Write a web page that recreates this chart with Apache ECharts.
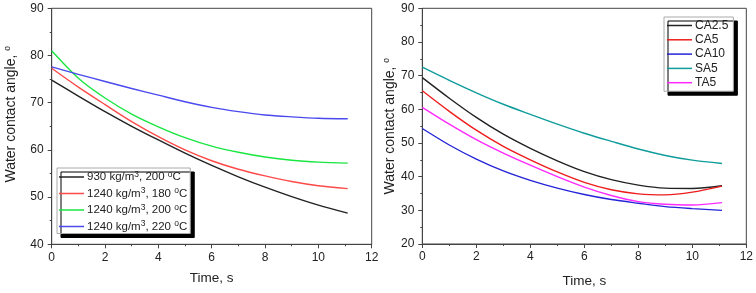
<!DOCTYPE html>
<html>
<head>
<meta charset="utf-8">
<script src="https://cdn.jsdelivr.net/npm/echarts@6/dist/echarts.min.js"></script>
<style>
  html, body { margin: 0; padding: 0; background: #fff; }
  #chart { width: 756px; height: 293px; }
</style>
</head>
<body>
<div id="chart"></div>
<script>
// left panel: density / temperature
const timeLeft = [0, 1, 2, 3, 4, 5, 6, 7, 8, 9, 10, 11.1]
const namesLeft = ['930 kg/m3, 200 oC', '1240 kg/m3, 180 oC', '1240 kg/m3, 200 oC', '1240 kg/m3, 220 oC']
const d930_200 = [74.8, 71.4, 68.1, 65.0, 62.1, 59.3, 56.7, 54.3, 52.1, 50.1, 48.3, 46.6]
const d1240_180 = [77.3, 73.3, 69.6, 66.0, 62.8, 60.0, 57.7, 55.9, 54.5, 53.3, 52.4, 51.8]
const d1240_200 = [81.0, 75.2, 71.0, 67.6, 64.9, 62.6, 60.8, 59.5, 58.5, 57.8, 57.4, 57.2]
const d1240_220 = [77.6, 76.0, 74.5, 73.0, 71.6, 70.2, 69.0, 68.1, 67.4, 67.0, 66.7, 66.6]
const colorsLeft = ['#222222', '#ff4a4a', '#19e640', '#4a4aee']

// right panel: samples
const timeRight = [0, 1, 2, 3, 4, 5, 6, 7, 8, 9, 10, 11.1]
const namesRight = ['CA2.5', 'CA5', 'CA10', 'SA5', 'TA5']
const ca25 = [69.4, 63.3, 57.6, 52.6, 48.4, 44.7, 41.5, 39.1, 37.5, 36.6, 36.5, 37.3]
const ca5 = [65.5, 59.4, 53.8, 49.0, 45.0, 41.4, 38.3, 36.1, 34.9, 34.6, 35.4, 37.2]
const ca10 = [54.3, 49.4, 45.2, 41.7, 38.9, 36.6, 34.7, 33.2, 32.1, 31.1, 30.5, 30.0]
const sa5 = [72.5, 68.6, 64.9, 61.5, 58.5, 55.6, 52.9, 50.5, 48.2, 46.3, 44.9, 43.9]
const ta5 = [60.6, 55.6, 51.0, 47.0, 43.4, 40.0, 36.9, 34.4, 32.6, 31.8, 31.6, 32.3]
const colorsRight = ['#222222', '#ee1c1c', '#2424d8', '#109c9c', '#ff2aff']

const font = 'Liberation Sans'
const txt = '#222'
const sup = { fontSize: 8.5, verticalAlign: 'top', lineHeight: 8, fontFamily: font, color: txt }

main()

function main() {
  const chart = echarts.init(document.getElementById('chart'))

  const seriesLeft = [d930_200, d1240_180, d1240_200, d1240_220].map((vals, i) => makeLine(namesLeft[i], timeLeft, vals, colorsLeft[i], 0))
  const seriesRight = [ca25, ca5, ca10, sa5, ta5].map((vals, i) => makeLine(namesRight[i], timeRight, vals, colorsRight[i], 1))

  const option = {
    animation: false,
    textStyle: { fontFamily: font },
    grid: [
      { left: 51.7, top: 8.3, width: 320, height: 236, show: true, borderColor: '#444', borderWidth: 1 },
      { left: 422.3, top: 8.3, width: 324.4, height: 240, show: true, borderColor: '#444', borderWidth: 1 }
    ],
    legend: [
      makeLegend(namesLeft, 57, 168, 14, 2.5, [2, 3, 0, 2], 11.5),
      makeLegend(namesRight, 664, 17, 13, 1.3, [2, 5, 2, 3], 12)
    ],
    xAxis: [makeX(0, 27), makeX(1, 30)],
    // left name sits a bit above the middle in the reference
    yAxis: [makeY(0, 40, 33, [0, 0, 0, 24]), makeY(1, 20, 22, 0)],
    series: seriesLeft.concat(seriesRight)
  }
  chart.setOption(option)
}

function makeLine(name, xs, vals, color, idx) {
  return {
    name: name,
    type: 'line',
    xAxisIndex: idx,
    yAxisIndex: idx,
    data: xs.map((x, i) => [x, vals[i]]),
    smooth: 0.3,
    symbol: 'none',
    lineStyle: { color: color, width: 1.4 },
    itemStyle: { color: color }
  }
}

function makeLegend(names, left, top, lh, gap, pad, size) {
  return {
    data: names,
    orient: 'vertical',
    left: left,
    top: top,
    icon: 'rect',
    itemWidth: 25,
    itemHeight: 1.5,
    itemGap: gap,
    padding: pad,
    backgroundColor: '#fff',
    borderColor: '#aaa',
    borderWidth: 1,
    borderRadius: 0,
    shadowColor: '#000',
    shadowBlur: 0,
    shadowOffsetX: 4,
    shadowOffsetY: 4,
    formatter: function (n) {
      return n.replace('m3', 'm{s|3}').replace(' oC', ' {s|o}C')
    },
    textStyle: { fontSize: size, lineHeight: lh, color: txt, fontFamily: font, padding: [0, 0, 0, -2], rich: { s: sup } }
  }
}

function makeX(idx, gap) {
  return {
    type: 'value',
    gridIndex: idx,
    min: 0,
    max: 12,
    interval: 2,
    name: 'Time, s',
    nameLocation: 'middle',
    nameGap: gap,
    nameTextStyle: { fontSize: 13.5, color: txt, fontFamily: font },
    axisLine: { show: true, lineStyle: { color: '#444', width: 1 } },
    axisTick: { show: true, inside: false, length: 4, lineStyle: { color: '#444' } },
    minorTick: { show: true, splitNumber: 2, length: 2, lineStyle: { color: '#444' } },
    axisLabel: { fontSize: 12, color: txt, margin: 7, fontFamily: font },
    splitLine: { show: false }
  }
}

function makeY(idx, min, gap, namePad) {
  return {
    type: 'value',
    gridIndex: idx,
    min: min,
    max: 90,
    interval: 10,
    name: '{t|Water contact angle, }{s|o}',
    nameLocation: 'middle',
    nameGap: gap,
    nameTextStyle: {
      fontSize: 14, color: txt, fontFamily: font, padding: namePad,
      rich: { t: { fontSize: 14, lineHeight: 16, color: txt, fontFamily: font }, s: sup }
    },
    axisLine: { show: true, lineStyle: { color: '#444', width: 1 } },
    axisTick: { show: true, inside: false, length: 4, lineStyle: { color: '#444' } },
    minorTick: { show: true, splitNumber: 2, length: 2, lineStyle: { color: '#444' } },
    axisLabel: { fontSize: 12, color: txt, margin: 8, fontFamily: font },
    splitLine: { show: false }
  }
}
</script>
</body>
</html>
